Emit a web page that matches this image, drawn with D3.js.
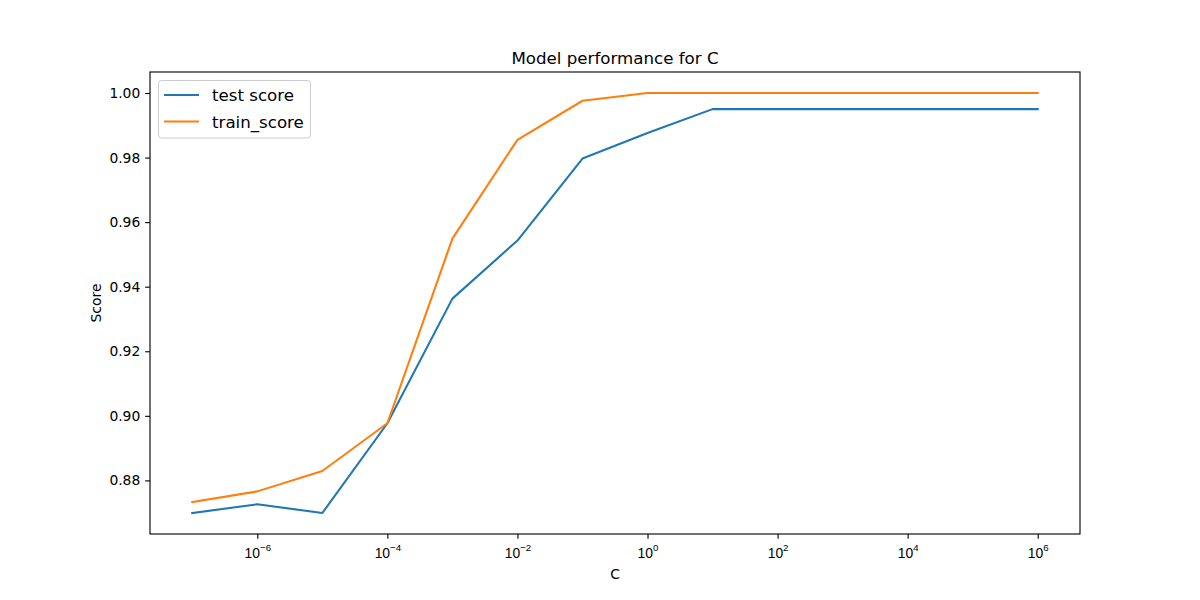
<!DOCTYPE html>
<html>
<head>
<meta charset="utf-8">
<script src="https://cdn.jsdelivr.net/npm/d3@7"></script>
<style>
  body { margin: 0; background: #fff; }
  svg { display: block; font-family: "DejaVu Sans", sans-serif; }
</style>
</head>
<body>
<svg id="chart" width="1200" height="600"></svg>
<script>
// ---- data ----
const cValues = [1e-7, 1e-6, 1e-5, 1e-4, 1e-3, 1e-2, 1e-1, 1e0, 1e1, 1e2, 1e3, 1e4, 1e5, 1e6];
const testScore = [0.8699, 0.8726, 0.8699, 0.8977, 0.9363, 0.9543, 0.9797, 0.9876, 0.9950, 0.9950, 0.9950, 0.9950, 0.9950, 0.9950];
const trainScore = [0.8733, 0.8766, 0.8829, 0.8977, 0.9549, 0.9855, 0.9976, 1.0000, 1.0000, 1.0000, 1.0000, 1.0000, 1.0000, 1.0000];
const xTickExponents = [-6, -4, -2, 0, 2, 4, 6];
const yTicks = [0.88, 0.90, 0.92, 0.94, 0.96, 0.98, 1.00];
const seriesNames = ["test score", "train_score"];
const seriesColors = ["#1f77b4", "#ff7f0e"];
const titleText = "Model performance for C";
const xLabel = "C";
const yLabel = "Score";

// ---- layout ----
const M = { left: 150, right: 1080, top: 72, bottom: 534 };
const svg = d3.select("#chart");
const FS = 13.89, FT = 16.67;

// matplotlib-style 5% margins
const lx0 = Math.log10(d3.min(cValues)), lx1 = Math.log10(d3.max(cValues));
const xm = (lx1 - lx0) * 0.05;
const x = d3.scaleLog().domain([Math.pow(10, lx0 - xm), Math.pow(10, lx1 + xm)]).range([M.left, M.right]);
const allY = testScore.concat(trainScore);
const y0 = d3.min(allY), y1 = d3.max(allY);
const ym = (y1 - y0) * 0.05;
const y = d3.scaleLinear().domain([y0 - ym, y1 + ym]).range([M.bottom, M.top]);

// ---- lines ----
const line = d3.line().x((d, i) => x(cValues[i])).y(d => y(d));
[testScore, trainScore].forEach((s, k) => {
  svg.append("path").datum(s)
    .attr("d", line)
    .attr("fill", "none")
    .attr("stroke", seriesColors[k])
    .attr("stroke-width", 2.08)
    .attr("stroke-linejoin", "round")
    .attr("stroke-linecap", "square");
});

// ---- axes frame ----
svg.append("rect").attr("x", M.left).attr("y", M.top)
  .attr("width", M.right - M.left).attr("height", M.bottom - M.top)
  .attr("fill", "none").attr("stroke", "#000").attr("stroke-width", 1.11);

// x axis
const xAxis = d3.axisBottom(x)
  .tickValues(xTickExponents.map(e => Math.pow(10, e)))
  .tickSize(4.86).tickPadding(4.86).tickFormat("");
const gx = svg.append("g").attr("transform", `translate(0,${M.bottom})`).call(xAxis);
gx.select(".domain").remove();
gx.selectAll(".tick line").attr("stroke", "#000").attr("stroke-width", 1.11);
gx.selectAll(".tick").each(function(d, i) {
  const t = d3.select(this).append("text")
    .attr("y", 23.7).attr("fill", "#000")
    .attr("text-anchor", "middle")
    .style("font-size", FS + "px");
  t.append("tspan").text("10");
  const e = xTickExponents[i];
  t.append("tspan").attr("dy", -6.5).style("font-size", "9.7px")
    .text(e < 0 ? "\u2212" + Math.abs(e) : String(e));
});

// y axis
const yAxis = d3.axisLeft(y).tickValues(yTicks).tickSize(4.86).tickPadding(4.86)
  .tickFormat(d3.format(".2f"));
const gy = svg.append("g").attr("transform", `translate(${M.left},0)`).call(yAxis);
gy.select(".domain").remove();
gy.selectAll(".tick line").attr("stroke", "#000").attr("stroke-width", 1.11);
gy.selectAll(".tick text").attr("fill", "#000").style("font-size", FS + "px")
  .style("font-family", "DejaVu Sans");

// labels
svg.append("text").attr("x", (M.left + M.right) / 2).attr("y", 579)
  .attr("text-anchor", "middle").style("font-size", FS + "px").text(xLabel);
svg.append("text").attr("transform", `translate(101,${(M.top + M.bottom) / 2}) rotate(-90)`)
  .attr("text-anchor", "middle").style("font-size", FS + "px").text(yLabel);
svg.append("text").attr("x", (M.left + M.right) / 2).attr("y", 64)
  .attr("text-anchor", "middle").style("font-size", FT + "px").text(titleText);

// legend
const lg = svg.append("g");
lg.append("rect").attr("x", 158.5).attr("y", 80.5).attr("width", 152).attr("height", 57.5)
  .attr("rx", 3).attr("fill", "#fff").attr("fill-opacity", 0.8)
  .attr("stroke", "#cccccc").attr("stroke-width", 1);
seriesNames.forEach((n, k) => {
  const yy = 95 + k * 26.5;
  lg.append("line").attr("x1", 164).attr("x2", 199).attr("y1", yy).attr("y2", yy)
    .attr("stroke", seriesColors[k]).attr("stroke-width", 2.08);
  lg.append("text").attr("x", 212).attr("y", yy + 6)
    .style("font-size", FT + "px").attr("fill", "#000").text(n);
});
</script>
</body>
</html>
